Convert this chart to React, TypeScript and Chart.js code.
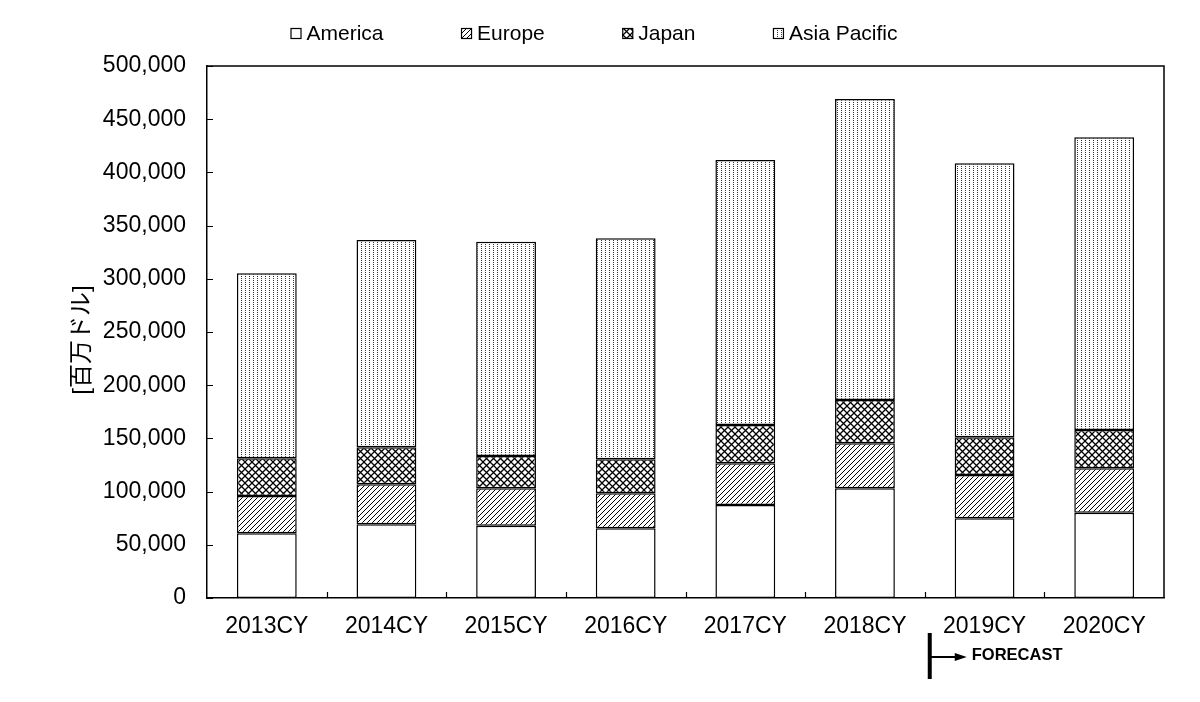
import React, { useEffect, useRef } from "react";
import { Chart, registerables } from "chart.js";

Chart.register(...registerables);

const categories = ["2013CY", "2014CY", "2015CY", "2016CY", "2017CY", "2018CY", "2019CY", "2020CY"];
const seriesNames = ["America", "Europe", "Japan", "Asia Pacific"];
const america = [60800, 69300, 68000, 65500, 87400, 103100, 74900, 80200];
const europe = [35100, 37500, 35100, 32900, 39200, 42300, 40700, 41700];
const japan = [35400, 34800, 30400, 31900, 36000, 40700, 35400, 36000];
const asiaPacific = [173900, 194900, 201400, 207700, 249100, 282900, 257500, 275100];
const yMin = 0;
const yMax = 500000;
const yStep = 50000;
const yAxisTitle = "[百万ドル]";
const forecastLabel = "FORECAST";
const forecastAfterIndex = 5;

const FONT = '"Liberation Sans", Arial, "Noto Sans CJK JP", sans-serif';

function makePattern(kind: string): any {
  if (kind === "white") return "#ffffff";
  const c = document.createElement("canvas");
  let ctx: CanvasRenderingContext2D;
  if (kind === "diag") {
    c.width = 5; c.height = 5;
    ctx = c.getContext("2d")!;
    ctx.fillStyle = "#fff"; ctx.fillRect(0, 0, 5, 5);
    ctx.strokeStyle = "#000"; ctx.lineWidth = 1;
    ctx.beginPath();
    ctx.moveTo(-1, 6); ctx.lineTo(6, -1);
    ctx.moveTo(-6, 6); ctx.lineTo(1, -1);
    ctx.moveTo(4, 6); ctx.lineTo(11, -1);
    ctx.stroke();
  } else if (kind === "cross") {
    c.width = 7; c.height = 7;
    ctx = c.getContext("2d")!;
    ctx.fillStyle = "#fff"; ctx.fillRect(0, 0, 7, 7);
    ctx.strokeStyle = "#000"; ctx.lineWidth = 1.3;
    ctx.beginPath();
    ctx.moveTo(-1, 8); ctx.lineTo(8, -1);
    ctx.moveTo(-1, -1); ctx.lineTo(8, 8);
    ctx.stroke();
  } else {
    c.width = 4; c.height = 2;
    ctx = c.getContext("2d")!;
    ctx.fillStyle = "#fff"; ctx.fillRect(0, 0, 4, 2);
    ctx.fillStyle = "#333"; ctx.fillRect(1, 0, 1, 1);
  }
  return ctx.createPattern(c, "repeat");
}

const legendPlugin = {
  id: "customLegend",
  afterDraw(chart: any) {
    const ctx = chart.ctx;
    ctx.save();
    ctx.font = `21px ${FONT}`;
    const box = 11, boxGap = 5, gap = 77.5;
    const items = chart.data.datasets.map((ds: any) => ({
      label: ds.label,
      fill: ds.backgroundColor,
      w: box + boxGap + ctx.measureText(ds.label).width,
    }));
    const total = items.reduce((s: number, i: any) => s + i.w, 0) + gap * (items.length - 1);
    let x = chart.width / 2 - 6 - total / 2;
    const y = 33;
    for (const it of items) {
      ctx.fillStyle = it.fill;
      ctx.fillRect(x, y - 5, box, box);
      ctx.strokeStyle = "#000";
      ctx.lineWidth = 1.2;
      ctx.strokeRect(x + 0.5, y - 4.5, box - 1, box - 1);
      ctx.fillStyle = "#000";
      ctx.textAlign = "left";
      ctx.textBaseline = "middle";
      ctx.fillText(it.label, x + box + boxGap, y + 1);
      x += it.w + gap;
    }
    ctx.restore();
  },
};

const framePlugin = {
  id: "frameTicks",
  afterDatasetsDraw(chart: any) {
    const { ctx, chartArea } = chart;
    const xs = chart.scales.x;
    const ys = chart.scales.y;
    ctx.save();
    ctx.strokeStyle = "#000";
    ctx.lineWidth = 1.5;
    ctx.beginPath();
    ctx.moveTo(chartArea.left, chartArea.top);
    ctx.lineTo(chartArea.right, chartArea.top);
    ctx.lineTo(chartArea.right, chartArea.bottom);
    ctx.stroke();
    ctx.lineWidth = 1.2;
    ctx.beginPath();
    for (let v = yMin; v <= yMax; v += yStep) {
      const py = Math.round(ys.getPixelForValue(v)) + 0.5;
      ctx.moveTo(chartArea.left, py);
      ctx.lineTo(chartArea.left + 6, py);
    }
    for (let i = 1; i < categories.length; i++) {
      const px = Math.round((xs.getPixelForValue(i - 1) + xs.getPixelForValue(i)) / 2) + 0.5;
      ctx.moveTo(px, chartArea.bottom);
      ctx.lineTo(px, chartArea.bottom - 6);
    }
    ctx.stroke();
    ctx.restore();
  },
  afterDraw(chart: any) {
    const { ctx, chartArea } = chart;
    const xs = chart.scales.x;
    const ys = chart.scales.y;
    const bx = (xs.getPixelForValue(forecastAfterIndex) + xs.getPixelForValue(forecastAfterIndex + 1)) / 2 + 5;
    const b = chartArea.bottom;
    ctx.save();
    ctx.strokeStyle = "#000";
    ctx.fillStyle = "#000";
    ctx.lineWidth = 4;
    ctx.beginPath();
    ctx.moveTo(bx, b + 35);
    ctx.lineTo(bx, b + 81);
    ctx.stroke();
    ctx.lineWidth = 2;
    ctx.beginPath();
    ctx.moveTo(bx, b + 59);
    ctx.lineTo(bx + 27, b + 59);
    ctx.stroke();
    ctx.beginPath();
    ctx.moveTo(bx + 37, b + 59);
    ctx.lineTo(bx + 25, b + 55);
    ctx.lineTo(bx + 25, b + 63);
    ctx.closePath();
    ctx.fill();
    ctx.font = `bold 16.5px ${FONT}`;
    ctx.textAlign = "left";
    ctx.textBaseline = "middle";
    ctx.fillText(forecastLabel, bx + 42, b + 57);
    // y-axis title
    ctx.translate(82, (chartArea.top + chartArea.bottom) / 2 + 8);
    ctx.rotate(-Math.PI / 2);
    ctx.font = `24px ${FONT}`;
    ctx.textAlign = "center";
    ctx.textBaseline = "middle";
    ctx.fillText(yAxisTitle, 0, 0);
    ctx.restore();
    void ys;
  },
};

export default function App() {
  const ref = useRef<HTMLCanvasElement | null>(null);
  useEffect(() => {
    if (!ref.current) return;
    Chart.defaults.font.family = FONT;
    Chart.defaults.color = "#000";
    const fills = [makePattern("white"), makePattern("diag"), makePattern("cross"), makePattern("dots")];
    const values = [america, europe, japan, asiaPacific];
    const chart = new Chart(ref.current, {
      type: "bar",
      data: {
        labels: categories,
        datasets: seriesNames.map((name, i) => ({
          label: name,
          data: values[i],
          backgroundColor: fills[i],
          borderColor: "#000",
          borderWidth: 1.5,
          borderSkipped: false,
          barPercentage: 0.5,
          categoryPercentage: 1,
        })),
      },
      options: {
        responsive: false,
        animation: false,
        layout: { padding: { top: 66, right: 36, left: 0, bottom: 0 } },
        plugins: { legend: { display: false }, tooltip: { enabled: false } },
        scales: {
          x: {
            stacked: true,
            grid: { display: false, drawTicks: false },
            border: { display: true, color: "#000", width: 1.5 },
            ticks: { font: { size: 23 }, color: "#000", padding: 15, maxRotation: 0 },
            afterFit: (s: any) => { s.height = 104; },
          },
          y: {
            stacked: true,
            min: yMin,
            max: yMax,
            grid: { display: false, drawTicks: false },
            border: { display: true, color: "#000", width: 1.5 },
            ticks: {
              stepSize: yStep,
              font: { size: 23 },
              color: "#000",
              padding: 21,
              callback: (v: any) => Number(v).toLocaleString("en-US"),
            },
            afterFit: (s: any) => { s.width = 207; },
          },
        },
      },
      plugins: [legendPlugin, framePlugin],
    });
    return () => chart.destroy();
  }, []);
  return (
    <div style={{ position: "fixed", left: 0, top: 0, width: 1200, height: 702, background: "#fff" }}>
      <canvas ref={ref} width={1200} height={702} style={{ display: "block" }} />
    </div>
  );
}
